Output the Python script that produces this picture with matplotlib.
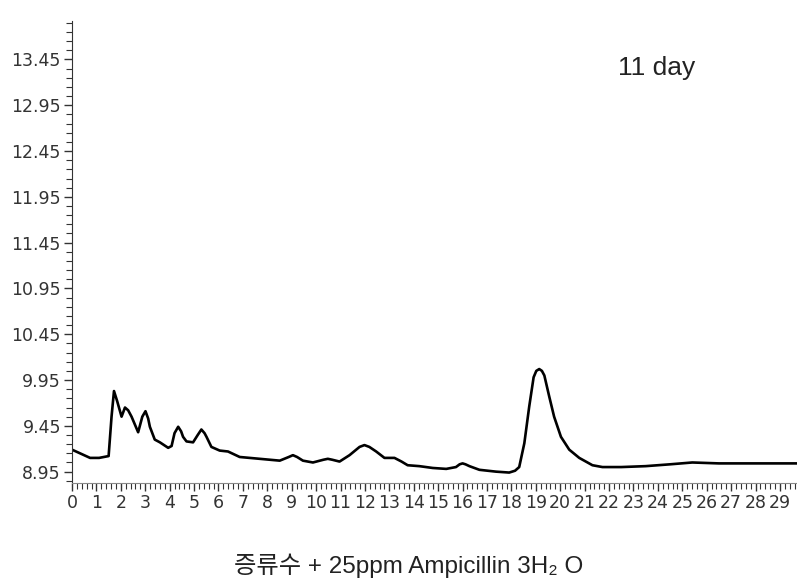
import matplotlib
matplotlib.use("Agg")
import matplotlib.pyplot as plt
import numpy as np
from matplotlib.ticker import FixedLocator, MultipleLocator

# trace (time, response)
t = [0.0, 0.33, 0.74, 1.11, 1.50, 1.62, 1.72, 1.85, 2.03, 2.17, 2.30, 2.44,
     2.71, 2.88, 3.01, 3.12, 3.19, 3.39, 3.60, 3.94, 4.08, 4.20, 4.35, 4.47,
     4.55, 4.69, 4.96, 5.15, 5.30, 5.43, 5.51, 5.71, 6.05, 6.39, 6.87, 7.69,
     8.51, 8.88, 9.05, 9.22, 9.46, 9.87, 10.30, 10.48, 10.66, 10.96, 11.37,
     11.78, 11.98, 12.18, 12.46, 12.80, 13.21, 13.50, 13.75, 14.23, 14.78,
     15.33, 15.73, 15.88, 16.00, 16.12, 16.28, 16.69, 17.37, 17.91, 18.15,
     18.32, 18.53, 18.73, 18.91, 19.02, 19.14, 19.25, 19.35, 19.55, 19.75,
     20.03, 20.37, 20.78, 21.32, 21.73, 22.50, 23.50, 24.50, 25.41, 26.50,
     28.00, 29.70]
resp = [9.19, 9.15, 9.10, 9.10, 9.12, 9.55, 9.83, 9.72, 9.55, 9.65, 9.62, 9.55,
        9.38, 9.55, 9.61, 9.53, 9.44, 9.30, 9.27, 9.21, 9.23, 9.37, 9.44, 9.39,
        9.33, 9.28, 9.27, 9.35, 9.41, 9.37, 9.33, 9.22, 9.18, 9.17, 9.11, 9.09,
        9.07, 9.11, 9.13, 9.11, 9.07, 9.05, 9.08, 9.09, 9.08, 9.06, 9.13,
        9.22, 9.24, 9.22, 9.17, 9.10, 9.10, 9.06, 9.02, 9.01, 8.99,
        8.98, 9.00, 9.03, 9.04, 9.03, 9.01, 8.97, 8.95, 8.94, 8.96,
        9.00, 9.26, 9.66, 9.98, 10.05, 10.07, 10.05, 10.00, 9.77, 9.55,
        9.33, 9.19, 9.10, 9.02, 9.00, 9.00, 9.01, 9.03, 9.05, 9.04,
        9.04, 9.04]

y_ticks = [8.95, 9.45, 9.95, 10.45, 10.95, 11.45, 11.95, 12.45, 12.95, 13.45]
x_ticks = list(range(0, 30))

fig = plt.figure(figsize=(7.97, 5.82), dpi=100)
ax = fig.add_axes([72 / 797, 1 - 483 / 582, 1 - 72 / 797, (483 - 21) / 582])

ax.plot(t, resp, color="black", lw=1.9, solid_joinstyle="round")

ax.set_xlim(0, 29.7)
ax.set_ylim(8.826, 13.87)

ax.yaxis.set_major_locator(FixedLocator(y_ticks))
ax.yaxis.set_minor_locator(FixedLocator(np.arange(8.85, 13.86, 0.1)))
ax.set_yticklabels(["%.2f" % v for v in y_ticks])
ax.xaxis.set_major_locator(FixedLocator(x_ticks))
ax.xaxis.set_minor_locator(MultipleLocator(0.2))
ax.set_xticklabels([str(v) for v in x_ticks])

tick_font = ["Liberation Sans Narrow", "DejaVu Sans"]
for lab in ax.get_xticklabels() + ax.get_yticklabels():
    lab.set_family(tick_font)
    lab.set_fontsize(12.5)
    lab.set_color("#333333")

ax.tick_params(axis="both", which="major", length=6, width=1, color="#333333")
ax.tick_params(axis="both", which="minor", length=4, width=0.8, color="#333333")
ax.tick_params(axis="x", pad=2)
ax.tick_params(axis="y", pad=2)

for s in ["top", "right"]:
    ax.spines[s].set_visible(False)
ax.spines["left"].set_color("#333333")
ax.spines["bottom"].set_color("#888888")

ax.text(0.807, 0.898, "11 day", transform=ax.transAxes, fontsize=19,
        family=["Liberation Sans", "DejaVu Sans"], color="#222222",
        ha="center", va="center")

fig.text(409 / 797, 1 - 566 / 582, "증류수 + 25ppm Ampicillin 3H₂ O",
         family=["Liberation Sans", "Noto Sans CJK KR", "DejaVu Sans"],
         fontsize=17.5, color="#222222", ha="center", va="center")

fig.savefig("out.png", dpi=100)
